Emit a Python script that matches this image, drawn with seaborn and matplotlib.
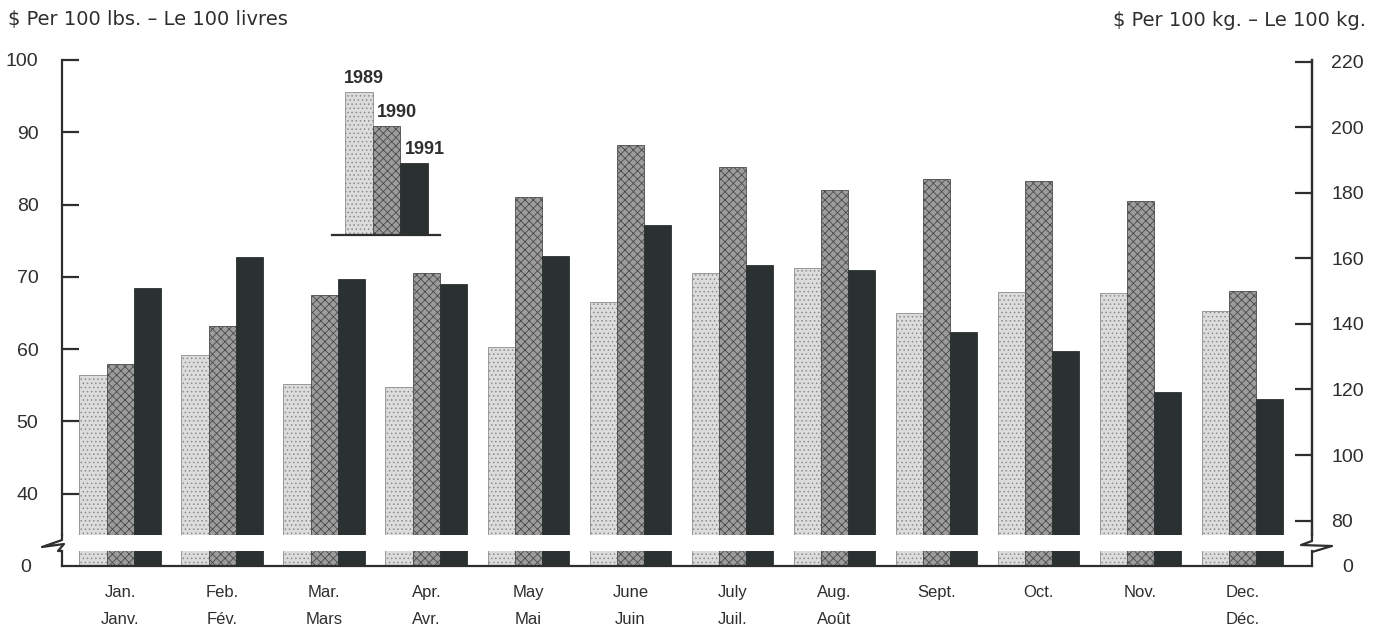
import numpy as np
import pandas as pd
import matplotlib.pyplot as plt
import seaborn as sns
from matplotlib.lines import Line2D

sns.set_theme(style="white")
plt.rcParams['font.family'] = ['Liberation Sans', 'DejaVu Sans']
plt.rcParams['hatch.linewidth'] = 0.6

# Veriler ($ per 100 lbs)
months = ['Jan', 'Feb', 'Mar', 'Apr', 'May', 'Jun', 'Jul', 'Aug', 'Sep', 'Oct', 'Nov', 'Dec']
month_labels = ['Jan.\nJanv.', 'Feb.\nFév.', 'Mar.\nMars', 'Apr.\nAvr.', 'May\nMai', 'June\nJuin',
                'July\nJuil.', 'Aug.\nAoût', 'Sept.', 'Oct.', 'Nov.', 'Dec.\nDéc.']
years = ['1989', '1990', '1991']
price_1989 = [56.4, 59.2, 55.2, 54.8, 60.3, 66.5, 70.6, 71.2, 65.0, 67.9, 67.8, 65.3]
price_1990 = [58.0, 63.2, 67.5, 70.6, 81.1, 88.2, 85.2, 82.0, 83.5, 83.3, 80.5, 68.1]
price_1991 = [68.5, 72.8, 69.7, 69.0, 72.9, 77.2, 71.7, 71.0, 62.4, 59.8, 54.1, 53.1]

df = pd.DataFrame({
    'month': months * 3,
    'year': np.repeat(years, 12),
    'price': price_1989 + price_1990 + price_1991,
})

colors = {'1989': '#dcdcdc', '1990': '#9c9c9c', '1991': '#2b3131'}
edges = {'1989': '#8c8c8c', '1990': '#4a4a4a', '1991': '#2b3131'}
hatches = {'1989': '....', '1990': 'xxxx', '1991': None}
ink = '#2e2e2e'

W, H = 1374, 630
fig = plt.figure(figsize=(W / 100, H / 100), dpi=100)

def px_axes(x0, y0, x1, y1):
    return fig.add_axes([x0 / W, 1 - y1 / H, (x1 - x0) / W, (y1 - y0) / H])

ax = px_axes(62, 60, 1312, 535)
ax_b = px_axes(62, 551, 1312, 566)

def style_bars(a):
    for cont, yr in zip(a.containers, years):
        for p in cont:
            p.set_edgecolor(edges[yr])
            p.set_linewidth(0.6)
            if hatches[yr]:
                p.set_hatch(hatches[yr])

for a in (ax, ax_b):
    sns.barplot(data=df, x='month', y='price', hue='year', palette=colors,
                width=0.8, saturation=1, legend=False, ax=a)
    style_bars(a)
    a.set_xlim(-0.57, 11.68)
    a.set_xlabel('')
    a.set_ylabel('')
    for s in a.spines.values():
        s.set_color(ink)
        s.set_linewidth(1.6)
    a.spines['top'].set_visible(False)

# ust eksen
ax.set_ylim(34.3, 100)
ax.set_yticks(range(40, 101, 10))
ax.spines['bottom'].set_visible(False)
ax.set_xticks([])
ax.tick_params(axis='y', direction='in', length=12, width=1.6, color=ink,
               labelsize=14, labelcolor=ink, pad=17, left=True)

sec = ax.secondary_yaxis('right', functions=(lambda v: v * 2.2046, lambda v: v / 2.2046))
sec.set_yticks(range(80, 221, 20))
sec.spines['right'].set_color(ink)
sec.spines['right'].set_linewidth(1.6)
sec.tick_params(axis='y', direction='in', length=12, width=1.6, color=ink,
                labelsize=14, labelcolor=ink, pad=14)

# alt eksen (0)
ax_b.set_ylim(0, 2)
ax_b.set_yticks([0])
ax_b.tick_params(axis='y', length=0, labelsize=14, labelcolor=ink, pad=22,
                 left=False, right=False, labelleft=True, labelright=True)
ax_b.set_xticks(range(12))
ax_b.set_xticklabels(month_labels)
ax_b.tick_params(axis='x', length=0, labelsize=12, labelcolor=ink, pad=14)
for lbl in ax_b.get_xticklabels():
    lbl.set_linespacing(2.0)

# kirik isaretleri
def fig_line(pts):
    xs = [p[0] / W for p in pts]
    ys = [1 - p[1] / H for p in pts]
    fig.add_artist(Line2D(xs, ys, color=ink, lw=1.6, transform=fig.transFigure))

fig_line([(62, 534), (62, 540), (42, 547), (64, 544), (58, 551), (62, 551)])
fig_line([(1312, 534), (1312, 541), (1301, 545), (1332, 546), (1312, 552)])

# lejant
leg = px_axes(332, 75, 440, 235)
key_heights = [143, 109, 72]
sns.barplot(x=years, y=key_heights, hue=years, palette=colors, width=1.0,
            saturation=1, legend=False, ax=leg)
style_bars(leg)
leg.set_xlim(-0.97, 2.93)
leg.set_ylim(0, 160)
leg.set_xticks([])
leg.set_yticks([])
for s in ['top', 'left', 'right']:
    leg.spines[s].set_visible(False)
leg.spines['bottom'].set_color(ink)
leg.spines['bottom'].set_linewidth(1.6)
for i, (yr, h) in enumerate(zip(years, key_heights)):
    leg.text(i - 0.55 + 0.2 * (i > 0), h + 5, yr, fontsize=13, fontweight='bold',
             color=ink, ha='left', va='bottom')

fig.text(8 / W, 1 - 20 / H, '\\$ Per 100 lbs. – Le 100 livres', fontsize=14,
         family='DejaVu Sans', color=ink, ha='left', va='center')
fig.text(1366 / W, 1 - 20 / H, '\\$ Per 100 kg. – Le 100 kg.', fontsize=14,
         family='DejaVu Sans', color=ink, ha='right', va='center')

fig.savefig('out.png', dpi=100)
